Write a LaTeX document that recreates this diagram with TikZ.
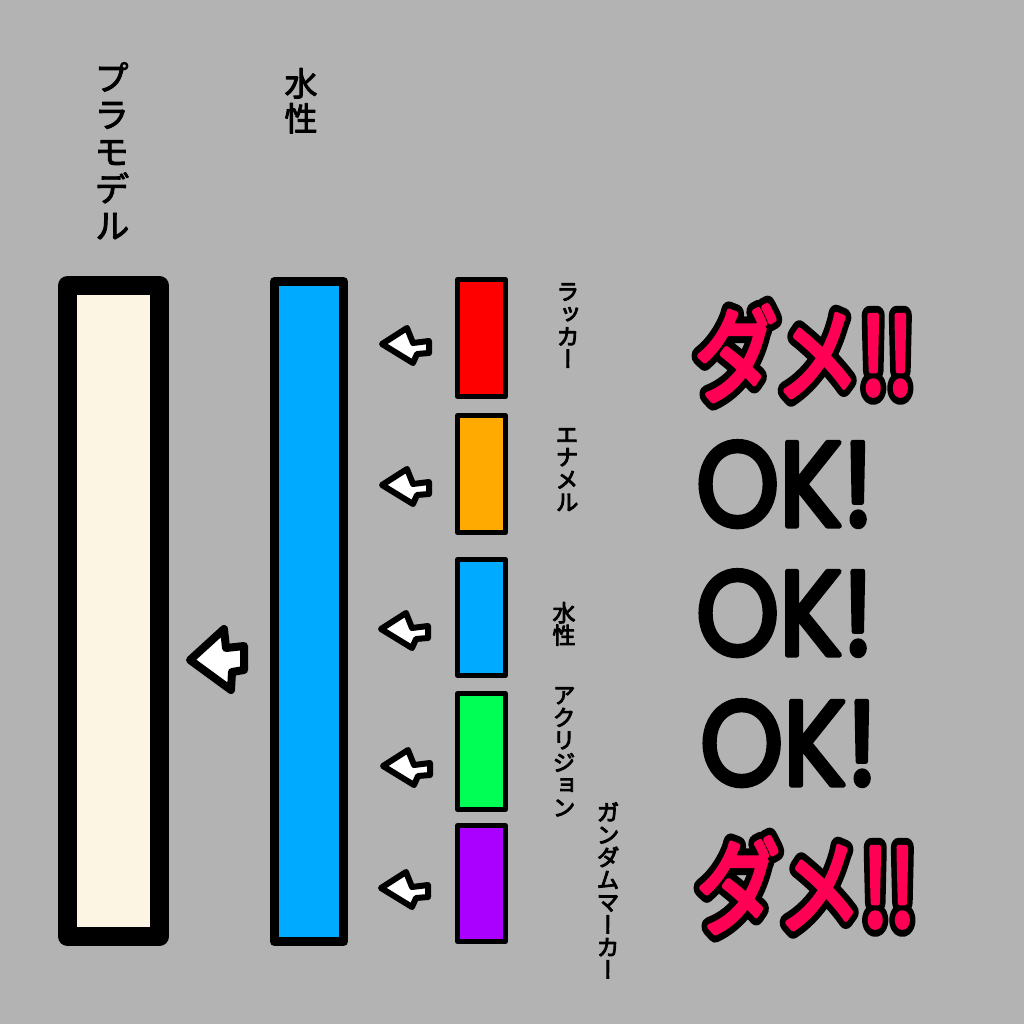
\documentclass[tikz,border=0pt]{standalone}
\usepackage{fontspec}
\usepackage{graphicx}
\newfontfamily\jpv[RawFeature=+vert]{Noto Sans CJK JP}
\newfontfamily\jpf{Noto Sans CJK JP}
\newfontfamily\okf{Poppins}
\definecolor{bg}{RGB}{179,179,179}
\definecolor{cream}{RGB}{253,245,228}
\definecolor{wblue}{RGB}{0,170,255}
\definecolor{lred}{RGB}{255,0,0}
\definecolor{lorange}{RGB}{255,170,0}
\definecolor{lgreen}{RGB}{0,255,85}
\definecolor{lpurple}{RGB}{170,0,255}
\definecolor{dame}{RGB}{255,0,85}
\newcommand\strk[1]{\special{pdf:literal direct 2 Tr #1 w 1 j 1 J}}
\newcommand\unstrk{\special{pdf:literal direct 0 Tr}}
\newcommand\lbl[1]{\strk{0.9}#1\unstrk}
\tikzset{
  bigbox/.style={draw=black, line join=round, inner sep=0pt, outer sep=0pt},
  smallbox/.style={draw=black, line width=5pt, line join=round, inner sep=0pt, minimum width=48pt},
  bigvlabel/.style={anchor=north, inner sep=0pt, align=center, font={\jpv\fontsize{35}{37}\selectfont\lineskiplimit=-50pt}},
  smallvlabel/.style={anchor=north, inner sep=0pt, align=center, font={\jpv\fontsize{23}{22.5}\selectfont\lineskiplimit=-50pt}},
  dametext/.style={anchor=base, inner sep=0pt, font={\jpf\fontsize{105}{110}\selectfont}},
  oktext/.style={anchor=base, inner sep=0pt, font={\okf\fontsize{120}{125}\selectfont}},
  smallarrow/.pic={\draw[line width=6pt, line join=round, fill=white] (0,0) -- (25,-16) -- (31,-1) -- (47,-3) -- (47,9) -- (35,10) -- (31,19) -- cycle;},
  bigarrow/.pic={\draw[line width=8pt, line join=round, fill=white] (0,0) -- (34,-31) -- (36,-12) -- (54,-14) -- (54,10) -- (42,12) -- (41,30) -- cycle;}
}
\newcommand\damestr{\scalebox{0.8}[1]{\rlap{\color{black}\strk{19}ダメ!!\unstrk}\color{dame}\strk{5}ダメ!!\unstrk}}
\newcommand\okstr{\scalebox{0.88}[1]{\color{black}\strk{5}OK!\unstrk}}
\begin{document}
\begin{tikzpicture}[x=1pt,y=-1pt]
\fill[bg] (0,0) rectangle (1024,1024);
\useasboundingbox (0,0) rectangle (1024,1024);
% big boxes
\node[bigbox, line width=19pt, fill=cream, minimum width=92pt, minimum height=651pt] (plamo) at (113.5,611) {};
\node[bigbox, line width=9pt, fill=wblue, minimum width=69pt, minimum height=660pt] (suisei) at (309,611.5) {};
% small boxes
\node[smallbox, fill=lred, minimum height=117pt] (lacquer) at (481.5,338) {};
\node[smallbox, fill=lorange, minimum height=117pt] (enamel) at (481.5,474) {};
\node[smallbox, fill=wblue, minimum height=116pt] (water) at (481.5,617.5) {};
\node[smallbox, fill=lgreen, minimum height=116pt] (acryl) at (481.5,751.5) {};
\node[smallbox, fill=lpurple, minimum height=116pt] (gundam) at (481.5,883.5) {};
% arrows
\pic at (382,344) {smallarrow};
\pic at (382,485) {smallarrow};
\pic at (381,629) {smallarrow};
\pic at (383,766) {smallarrow};
\pic at (381,888) {smallarrow};
\pic at (190,660) {bigarrow};
% labels
\node[bigvlabel] (lplamo) at (112,62) {\lbl{プ\\ラ\\モ\\デ\\ル}};
\node[bigvlabel, font={\jpv\fontsize{33}{35}\selectfont\lineskiplimit=-50pt}] (lsuisei) at (301,68) {\lbl{水\\性}};
\node[smallvlabel] (llacquer) at (568,283) {\lbl{ラ\\ッ\\カ\\ー}};
\node[smallvlabel] (lenamel) at (567,428) {\lbl{エ\\ナ\\メ\\ル}};
\node[smallvlabel] (lwater) at (564,602) {\lbl{水\\性}};
\node[smallvlabel] (lacryl) at (564,687) {\lbl{ア\\ク\\リ\\ジ\\ョ\\ン}};
\node[smallvlabel] (lgundam) at (608,802) {\lbl{ガ\\ン\\ダ\\ム\\マ\\ー\\カ\\ー}};
% verdicts
\node[dametext] (v1) at (804,394) {\damestr};
\node[oktext] (v2) at (785,526) {\okstr};
\node[oktext] (v3) at (785,655) {\okstr};
\node[oktext] (v4) at (789,785) {\okstr};
\node[dametext] (v5) at (806,926) {\damestr};
\end{tikzpicture}
\end{document}
